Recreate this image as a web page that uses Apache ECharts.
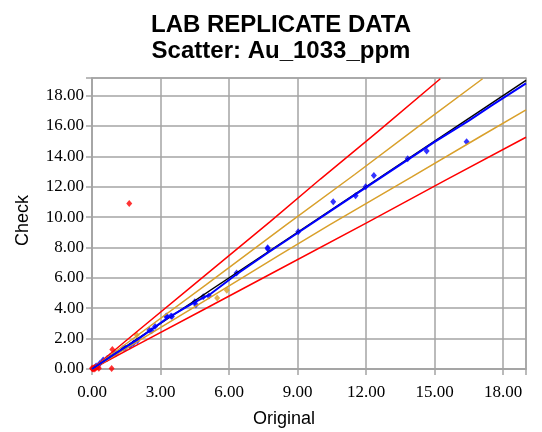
<!DOCTYPE html>
<html>
<head>
<meta charset="utf-8">
<script src="https://cdn.jsdelivr.net/npm/echarts@6/dist/echarts.min.js"></script>
<style>html,body{margin:0;padding:0;background:#fff}#c{width:542px;height:432px}</style>
</head>
<body>
<div id="c"></div>
<script>
// ---- data ----
const xTicks = [0, 3, 6, 9, 12, 15, 18];
const yTicks = [0, 2, 4, 6, 8, 10, 12, 14, 16, 18];
const bluePoints = [[0.18,0.2],[0.35,0.38],[0.49,0.59],[0.67,0.70],[0.79,0.81],[1.0,1.03],[1.04,1.0],[1.37,1.36],[1.45,1.40],[1.66,1.52],[1.81,1.69],[1.98,1.86],[2.51,2.57],[2.61,2.52],[2.76,2.79],[3.24,3.45],[3.27,3.49],[3.46,3.49],[3.5,3.45],[4.5,4.43],[4.55,4.22],[4.87,4.76],[5.12,4.80],[6.33,6.32],[7.69,7.92],[7.69,7.98],[9.03,9.04],[10.56,11.0],[11.54,11.4],[11.98,11.99],[12.34,12.73],[13.82,13.83],[14.65,14.34],[16.40,14.95]];
const redPoints = [[0.02,0.02],[0.05,0.0],[0.08,0.05],[0.1,0.1],[0.15,0.08],[0.2,0.12],[0.25,0.15],[0.12,0.0],[0.0,0.05],[0.3,0.05],[0.89,1.28],[0.86,0.03],[1.63,10.89]];
const orangePoints = [[1.96,2.24],[5.48,4.68],[5.90,5.18]];
const oneToOne = [[0,0],[19,19]];
const fitLine = [[0,0],[1,1.0],[2,1.95],[3.3,3.35],[4.5,4.4],[5.2,4.95],[6.3,6.2],[7.7,7.65],[9,8.95],[10.5,10.45],[12,11.95],[13.8,13.75],[15,14.95],[16.5,16.35],[17.5,17.35],[19,18.8]];
const upperRed = [[0,0],[2,2.5],[4.5,5.6],[7.8,9.7],[10,12.5],[12.5,15.6],[15.25,19.1]];
const lowerRed = [[0,0],[2,1.6],[5,4.0],[8,6.4],[12,9.6],[15.5,12.45],[19,15.25]];
const upperOrange = [[0,0],[2,2.22],[5,5.55],[8.5,9.48],[11.5,12.8],[14.5,16.2],[17.1,19.1]];
const lowerOrange = [[0,0],[2,1.82],[5,4.55],[8.2,7.5],[10.4,9.48],[14,12.65],[17,15.3],[19,17.05]];

const gridColor = '#a4a4a4';
const serif = '"Liberation Serif", "Times New Roman", serif';
const sans = '"Liberation Sans", Arial, sans-serif';
const fmt = (ticks) => (v) => ticks.some(t => Math.abs(t - v) < 1e-6) ? v.toFixed(2) : '';

const chart = echarts.init(document.getElementById('c'), null, {renderer: 'canvas'});
const lineSeries = (data, color, width) => ({
  type: 'line', data, showSymbol: false, symbol: 'none', animation: false,
  lineStyle: {color, width}, silent: true
});
const scatterSeries = (data, color) => ({
  type: 'scatter', data, symbol: 'diamond', symbolSize: [6, 7],
  itemStyle: {color}, animation: false
});

chart.setOption({
  animation: false,
  backgroundColor: '#fff',
  title: {
    text: 'LAB REPLICATE DATA\nScatter: Au_1033_ppm',
    left: 276, top: 7, textAlign: 'center',
    textStyle: {fontFamily: sans, fontWeight: 'bold', fontSize: 24, lineHeight: 26, color: '#000'}
  },
  grid: {left: 92, top: 78, right: 16, bottom: 63, show: true, borderColor: gridColor, borderWidth: 1.5},
  xAxis: {
    type: 'value', min: 0, max: 19, interval: 3,
    axisLine: {show: true, onZero: false, lineStyle: {color: gridColor, width: 1.5}},
    axisTick: {show: true, length: 6, lineStyle: {color: gridColor, width: 1.5}},
    splitLine: {show: true, lineStyle: {color: gridColor, width: 1.5}},
    axisLabel: {formatter: fmt(xTicks), fontFamily: serif, fontSize: 17, color: '#000', margin: 15, showMaxLabel: true}
  },
  yAxis: {
    type: 'value', min: 0, max: 19.15, interval: 2,
    axisLine: {show: true, onZero: false, lineStyle: {color: gridColor, width: 1.5}},
    axisTick: {show: true, length: 6, lineStyle: {color: gridColor, width: 1.5}},
    splitLine: {show: true, lineStyle: {color: gridColor, width: 1.5}},
    axisLabel: {formatter: fmt(yTicks), fontFamily: serif, fontSize: 17, color: '#000', margin: 8}
  },
  graphic: [
    {type: 'text', left: 253, top: 410, style: {text: 'Original', font: '18px ' + sans, fill: '#000'}},
    {type: 'text', x: 14, y: 246, rotation: Math.PI / 2, style: {text: 'Check', font: '18px ' + sans, fill: '#000'}}
  ],
  series: [
    lineSeries(upperRed, '#ff0000', 1.5),
    lineSeries(lowerRed, '#ff0000', 1.5),
    lineSeries(upperOrange, '#d9a02b', 1.5),
    lineSeries(lowerOrange, '#d9a02b', 1.5),
    lineSeries(oneToOne, '#000000', 1.5),
    lineSeries(fitLine, '#0000ff', 2),
    scatterSeries(bluePoints, '#0000ff'),
    scatterSeries(orangePoints, '#d9a02b'),
    scatterSeries(redPoints, '#ff0000')
  ]
});
</script>
</body>
</html>
